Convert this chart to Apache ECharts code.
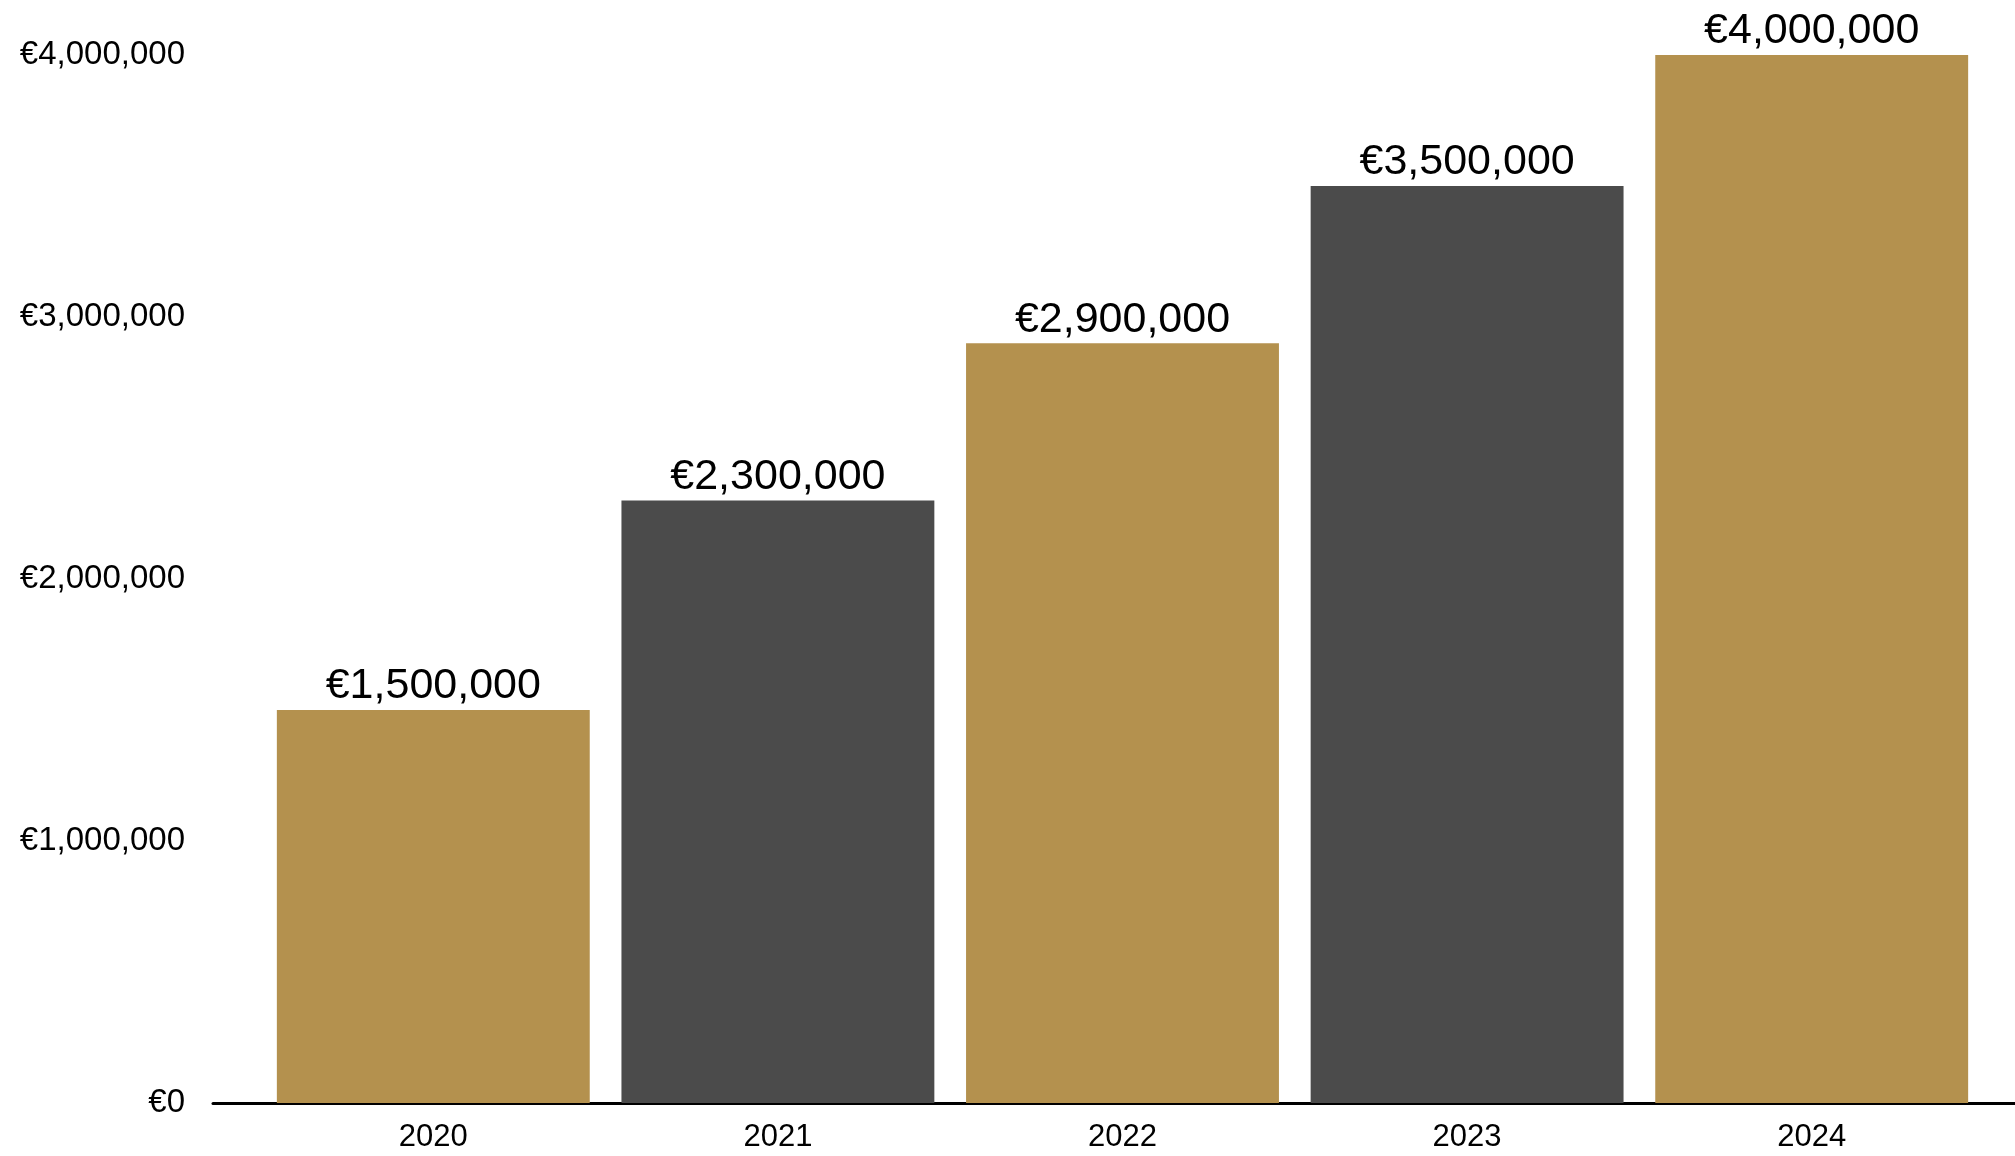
<!DOCTYPE html>
<html>
<head>
<meta charset="utf-8">
<script src="https://cdn.jsdelivr.net/npm/echarts@6/dist/echarts.min.js"></script>
<style>
html,body{margin:0;padding:0;background:#fff;}
#chart{width:2015px;height:1156px;}
</style>
</head>
<body>
<div id="chart"></div>
<script>
const categories = ['2020', '2021', '2022', '2023', '2024'];
const values = [1500000, 2300000, 2900000, 3500000, 4000000];
const barColors = ['#B4914E', '#4B4B4B', '#B4914E', '#4B4B4B', '#B4914E'];
const yTicks = [0, 1000000, 2000000, 3000000, 4000000];

const FONT = '"Liberation Sans", Arial, Helvetica, sans-serif';
const fmt = v => '€' + Number(v).toLocaleString('en-US');

const chart = echarts.init(document.getElementById('chart'), null, {renderer: 'canvas'});
chart.setOption({
  animation: false,
  backgroundColor: '#ffffff',
  grid: [
    {left: 213, right: 0, top: 55, bottom: 53},
    {left: 261, right: 31, top: 55, bottom: 53}
  ],
  xAxis: [
    {
      gridIndex: 0, type: 'value', min: 0, max: 1,
      axisLine: {show: true, onZero: false, lineStyle: {color: '#000', width: 3}},
      axisTick: {show: false}, axisLabel: {show: false}, splitLine: {show: false}
    },
    {
      gridIndex: 1, type: 'category', data: categories,
      axisLine: {show: false}, axisTick: {show: false},
      axisLabel: {color: '#000', fontSize: 31, fontFamily: FONT, margin: 19}
    }
  ],
  yAxis: [
    {
      gridIndex: 0, type: 'value', min: yTicks[0], max: yTicks[yTicks.length - 1],
      interval: yTicks[1] - yTicks[0],
      axisLine: {show: false}, axisTick: {show: false}, splitLine: {show: false},
      axisLabel: {color: '#000', fontSize: 33, fontFamily: FONT, margin: 28, formatter: fmt}
    },
    {
      gridIndex: 1, type: 'value', min: yTicks[0], max: yTicks[yTicks.length - 1],
      show: false, splitLine: {show: false}
    }
  ],
  series: [{
    type: 'bar',
    xAxisIndex: 1, yAxisIndex: 1,
    barCategoryGap: '9.2%',
    data: values.map((v, i) => ({value: v, itemStyle: {color: barColors[i]}})),
    label: {
      show: true, position: 'top', distance: 2,
      color: '#000', fontSize: 43, fontFamily: FONT,
      formatter: p => fmt(p.value)
    }
  }]
});
</script>
</body>
</html>
